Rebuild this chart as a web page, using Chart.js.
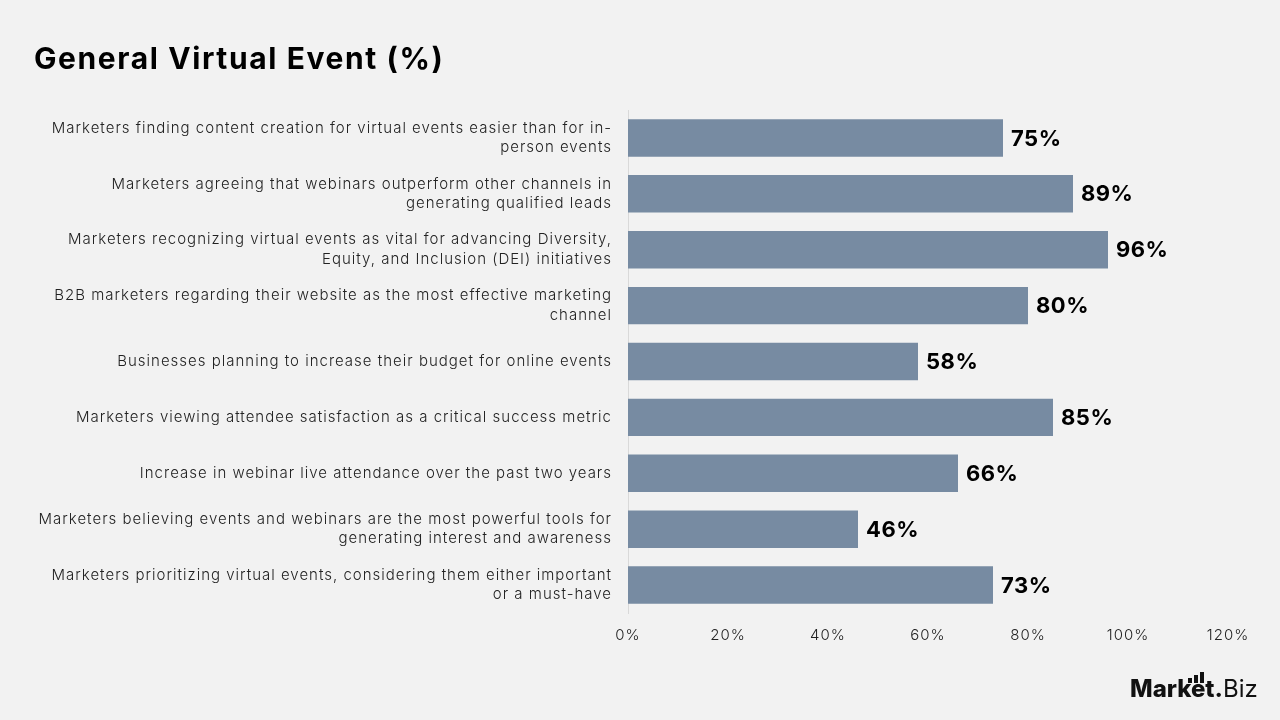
<!DOCTYPE html>
<html>
<head>
<meta charset="utf-8">
<script src="https://cdn.jsdelivr.net/npm/chart.js@4.4.1/dist/chart.umd.min.js"></script>
<style>
  html, body { margin: 0; padding: 0; background: #f2f2f2; }
  #wrap { position: relative; width: 1280px; height: 720px; overflow: hidden; }
  #title { position: absolute; left: 34px; top: 40px; font-family: "Inter", sans-serif; font-weight: 700; font-size: 30px; color: #000; letter-spacing: 1.6px; }
  #logo { position: absolute; left: 1130px; top: 666px; font-family: "Inter", sans-serif; font-size: 24px; color: #111; }
  #logo b { font-weight: 800; }
  #logo .bars { position: absolute; left: 0; top: 4px; }
  #logo .bars i { position: absolute; width: 4px; background: #111; }
</style>
</head>
<body>
<div id="wrap">
  <canvas id="chart" width="1280" height="720"></canvas>
  <div id="title">General Virtual Event (%)</div>
  <div id="logo">
    <span class="bars"><i style="left:58px;height:5px;top:8px"></i><i style="left:64px;height:8px;top:5px"></i><i style="left:70px;height:11px;top:2px"></i></span>
    <span style="position:relative;top:8px"><b>Market</b><b>.</b>Biz</span>
  </div>
</div>
<script>
// categorii (liniile fiecărei etichete) și valorile în procente
const categories = [
  ["Marketers finding content creation for virtual events easier than for in-", "person events"],
  ["Marketers agreeing that webinars outperform other channels in", "generating qualified leads"],
  ["Marketers recognizing virtual events as vital for advancing Diversity,", "Equity, and Inclusion (DEI) initiatives"],
  ["B2B marketers regarding their website as the most effective marketing", "channel"],
  ["Businesses planning to increase their budget for online events"],
  ["Marketers viewing attendee satisfaction as a critical success metric"],
  ["Increase in webinar live attendance over the past two years"],
  ["Marketers believing events and webinars are the most powerful tools for", "generating interest and awareness"],
  ["Marketers prioritizing virtual events, considering them either important", "or a must-have"]
];
const values = [75, 89, 96, 80, 58, 85, 66, 46, 73];
const xTicks = [0, 20, 40, 60, 80, 100, 120];

const FONT = "Inter";

// spațiere între litere pentru a imita fontul mai lat din original
const spacing = {
  id: "spacing",
  beforeDraw(chart) { chart.ctx.letterSpacing = "1px"; },
  afterDraw(chart) { chart.ctx.letterSpacing = "0px"; }
};

// etichete cu valoarea, la capătul fiecărei bare
const valueLabels = {
  id: "valueLabels",
  afterDatasetsDraw(chart) {
    const ctx = chart.ctx;
    const meta = chart.getDatasetMeta(0);
    ctx.save();
    ctx.letterSpacing = "0.5px";
    ctx.font = "700 22px " + FONT;
    ctx.fillStyle = "#000";
    ctx.textAlign = "left";
    ctx.textBaseline = "middle";
    meta.data.forEach((bar, i) => {
      ctx.fillText(values[i] + "%", bar.x + 8, bar.y + 1);
    });
    ctx.restore();
  }
};

new Chart(document.getElementById("chart"), {
  type: "bar",
  data: {
    labels: categories,
    datasets: [{
      data: values,
      backgroundColor: "#778ba2",
      barPercentage: 0.67,
      categoryPercentage: 1
    }]
  },
  options: {
    indexAxis: "y",
    responsive: false,
    animation: false,
    layout: { padding: { top: 110, right: 52, left: 0, bottom: 0 } },
    plugins: { legend: { display: false }, tooltip: { enabled: false } },
    scales: {
      x: {
        min: 0, max: 120,
        afterBuildTicks(axis) { axis.ticks = xTicks.map(v => ({ value: v })); },
        afterFit(axis) { axis.height = 107; },
        grid: { display: false },
        border: { display: false },
        ticks: {
          padding: 5,
          color: "#222",
          font: { family: FONT, size: 15, weight: 300 },
          callback: v => v + "%"
        }
      },
      y: {
        afterFit(axis) { axis.width = 628; },
        grid: { display: false },
        border: { display: true, color: "#d9d9d9", width: 1 },
        ticks: {
          padding: 8,
          color: "#222",
          font: { family: FONT, size: 15, weight: 300, lineHeight: 1.3 }
        }
      }
    }
  },
  plugins: [spacing, valueLabels]
});
</script>
</body>
</html>
